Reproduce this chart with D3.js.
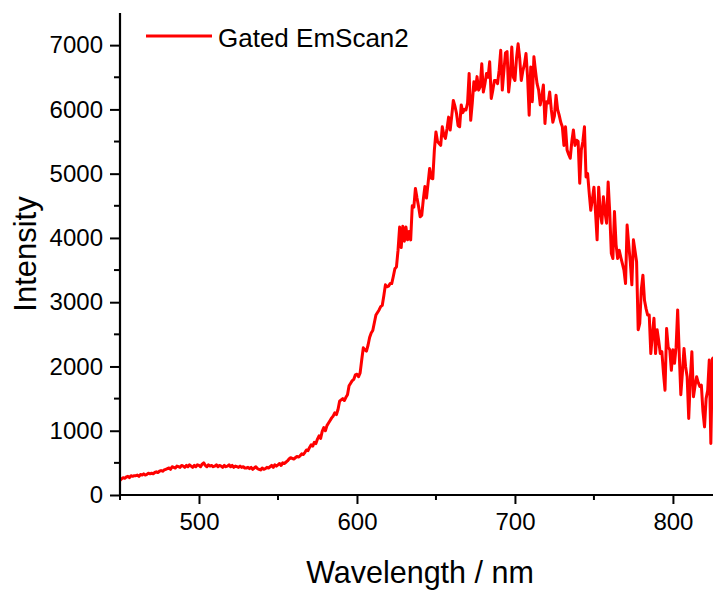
<!DOCTYPE html>
<html><head><meta charset="utf-8">
<script src="https://cdn.jsdelivr.net/npm/d3@7"></script>
<style>body{margin:0;background:#fff}svg{display:block}text{font-family:"Liberation Sans",Arial,sans-serif;fill:#000}</style>
</head><body>
<svg id="c" width="713" height="590"></svg>
<script>
const seriesName = "Gated EmScan2";
const wlStart = 450, wlStep = 1;
const intensity = [
230,250,270,260,280,290,270,300,290,300,
300,310,290,320,310,330,310,320,340,330,
340,330,350,360,350,370,380,370,390,400,
410,420,400,440,430,420,450,440,430,460,
450,430,460,440,470,450,430,460,440,470,
460,440,480,500,460,440,470,450,460,440,
450,470,440,460,450,430,460,440,450,470,
440,460,430,450,440,430,450,430,440,420,
420,430,410,430,400,420,440,410,400,390,
420,400,410,430,420,440,460,430,470,450,
470,490,460,500,490,510,530,560,580,570,
560,580,600,590,610,640,630,660,700,690,
740,780,760,820,800,870,920,880,990,1050,
1000,1080,1120,1160,1200,1230,1280,1250,1330,1460,
1480,1500,1470,1520,1560,1700,1740,1780,1800,1870,
1880,1840,1900,2100,2290,2260,2240,2330,2450,2520,
2560,2680,2800,2840,2880,2930,2950,3100,3270,3240,
3250,3290,3290,3400,3520,3550,3810,4170,3850,4180,
3950,4170,3970,4100,3970,4500,4480,4770,4620,4490,
4330,4350,4600,4800,4620,4850,5080,4930,4920,5370,
5650,5500,5470,5440,5730,5600,5550,5700,5880,5680,
5900,6140,6050,5940,5750,5730,6070,5950,6000,5990,
6100,6560,5830,6100,6430,6300,6510,6300,6350,6710,
6270,6400,6560,6500,6740,6170,6300,6450,6450,6400,
6610,6920,6300,6600,6880,6900,6270,6500,6970,6500,
6450,6800,7020,6800,6450,6600,6700,6870,6500,5910,
6660,6120,6820,6600,6400,6300,6070,6200,6380,5780,
6120,6100,6270,6000,5800,5900,6220,6000,5910,5800,
5730,5440,5730,5370,5300,5240,5500,5680,5440,5520,
5500,4850,5370,5500,5730,4950,5000,4700,4430,4600,
4790,4400,3970,4790,4400,4230,4640,4400,4230,4870,
4400,3760,3680,4410,3900,3680,3810,3700,3600,3500,
3290,4200,3900,3630,3270,3970,3800,3630,2570,2670,
3200,3420,3030,2900,2800,2800,2200,2500,2750,2200,
2570,2400,2200,2230,1900,1630,2590,2300,2260,1940,
2260,2050,2300,2880,2200,1560,1900,2280,2000,1840,
1190,1800,2230,1530,1700,1840,1750,1690,1710,1300,
1060,1500,1630,2100,800,2120,2140
];
const xTicks = [500, 600, 700, 800];
const xMinor = [450, 550, 650, 750];
const yTicks = [0, 1000, 2000, 3000, 4000, 5000, 6000, 7000];
const yMinor = [500, 1500, 2500, 3500, 4500, 5500, 6500];
const xTitle = "Wavelength / nm";
const yTitle = "Intensity";

const data = intensity.map((v, i) => ({x: wlStart + i * wlStep, y: v}));

const svg = d3.select("#c");
const L = 120, R = 713, T = 13, B = 495;
const x = d3.scaleLinear().domain([450, 826]).range([L, R + 1]);
const y = d3.scaleLinear().domain([0, 7500]).range([B, T]);

svg.append("defs").append("clipPath").attr("id", "clip")
  .append("rect").attr("x", L).attr("y", 0).attr("width", R - L + 2).attr("height", B);

svg.append("path").datum(data)
  .attr("clip-path", "url(#clip)")
  .attr("fill", "none").attr("stroke", "#ff0000").attr("stroke-width", 3)
  .attr("stroke-linejoin", "round")
  .attr("d", d3.line().x(d => x(d.x)).y(d => y(d.y)));

const gx = svg.append("g").attr("transform", `translate(0,${B})`)
  .call(d3.axisBottom(x).tickValues(xTicks).tickSize(9).tickPadding(9).tickFormat(d3.format("d")));
gx.append("g").selectAll("line").data(xMinor).join("line")
  .attr("x1", d => x(d)).attr("x2", d => x(d)).attr("y1", 0).attr("y2", 5)
  .attr("stroke", "#000").attr("stroke-width", 2);
const gy = svg.append("g").attr("transform", `translate(${L},0)`)
  .call(d3.axisLeft(y).tickValues(yTicks).tickSize(10).tickPadding(7).tickFormat(d3.format("d")));
gy.append("g").selectAll("line").data(yMinor).join("line")
  .attr("y1", d => y(d)).attr("y2", d => y(d)).attr("x1", 0).attr("x2", -6)
  .attr("stroke", "#000").attr("stroke-width", 2);

[gx, gy].forEach(g => {
  g.select(".domain").attr("stroke", "#000").attr("stroke-width", 2.2);
  g.selectAll(".tick line").attr("stroke", "#000").attr("stroke-width", 2);
  g.selectAll(".tick text").attr("font-size", 24).attr("font-family", "Liberation Sans, Arial, sans-serif").attr("fill", "#000");
});
gx.select(".domain").attr("d", `M${L},0H${R + 2}`);
gy.select(".domain").attr("d", `M0,${T}V${B}`);

svg.append("text").attr("x", 420).attr("y", 583).attr("text-anchor", "middle")
  .attr("font-size", 30.5).text(xTitle);
svg.append("text").attr("transform", "translate(36,254) rotate(-90)").attr("text-anchor", "middle")
  .attr("font-size", 31).text(yTitle);

svg.append("line").attr("x1", 146).attr("x2", 212).attr("y1", 36).attr("y2", 36)
  .attr("stroke", "#ff0000").attr("stroke-width", 3);
svg.append("text").attr("x", 218).attr("y", 46.5).attr("font-size", 26).text(seriesName);
</script>
</body></html>
